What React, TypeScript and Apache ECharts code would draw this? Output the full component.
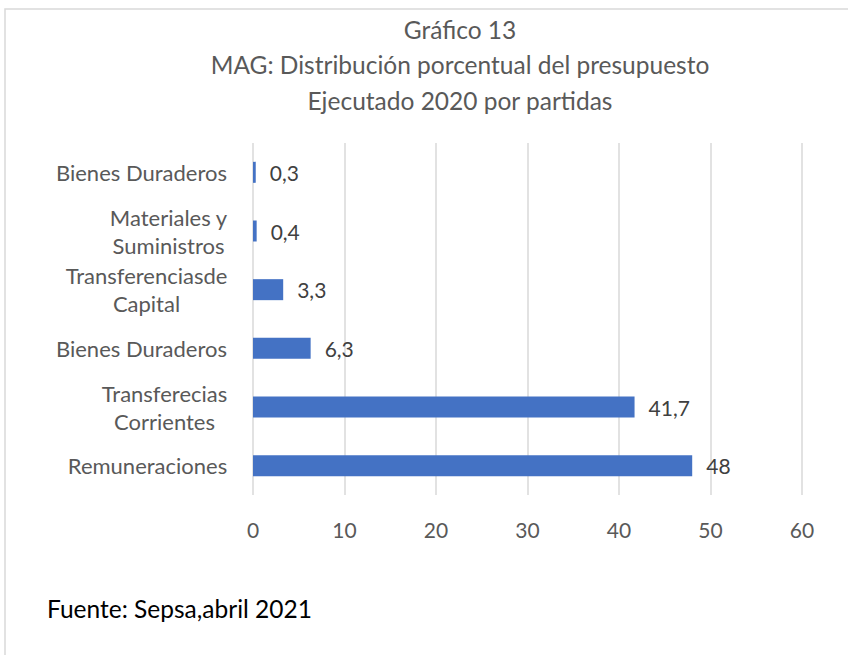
import React, { useEffect, useRef } from "react";
import * as echarts from "echarts";

const titleLines = [
  "Gráfico 13",
  "MAG: Distribución porcentual del presupuesto",
  "Ejecutado 2020 por partidas",
];
const categories = [
  "Bienes Duraderos",
  "Materiales y\nSuministros",
  "Transferenciasde\nCapital",
  "Bienes Duraderos",
  "Transferecias\nCorrientes",
  "Remuneraciones",
];
const values = [0.3, 0.4, 3.3, 6.3, 41.7, 48];
const xTicks = { min: 0, max: 60, interval: 10 };
const footer = "Fuente: Sepsa,abril 2021";

const FONT = "Lato";
const LABEL_SIZE = 22;
const NUM_SIZE = 21;

function measure(text: string, size: number) {
  const c = document.createElement("canvas").getContext("2d");
  if (!c) return text.length * size * 0.5;
  c.font = `${size}px ${FONT}`;
  return c.measureText(text).width;
}

export default function App() {
  const ref = useRef<HTMLDivElement>(null);
  useEffect(() => {
    if (!ref.current) return;
    const chart = echarts.init(ref.current, undefined, { renderer: "svg" });
    const rich: Record<string, any> = {};
    categories.forEach((c, i) => {
      const w = Math.max(...c.split("\n").map((l) => measure(l, LABEL_SIZE)));
      rich["w" + i] = {
        width: Math.ceil(w) + 1,
        align: "center",
        fontFamily: FONT,
        fontSize: LABEL_SIZE,
        color: "#595959",
        lineHeight: 28,
      };
    });
    chart.setOption({
      animation: false,
      backgroundColor: "#ffffff",
      textStyle: { fontFamily: FONT },
      graphic: [
        {
          type: "rect",
          shape: { x: 5, y: 9, width: 900, height: 800 },
          style: { fill: "none", stroke: "#d9d9d9", lineWidth: 1.5 },
          silent: true,
        },
        ...titleLines.map((t, i) => ({
          type: "text",
          x: 460,
          y: 29 + i * 35.5,
          style: {
            text: t,
            fontFamily: FONT,
            fontSize: 24.5,
            fill: "#595959",
            align: "center",
            verticalAlign: "middle",
          },
        })),
        {
          type: "text",
          x: 47,
          y: 608,
          style: {
            text: footer,
            fontFamily: FONT,
            fontSize: 24.5,
            fill: "#000000",
            align: "left",
            verticalAlign: "middle",
          },
        },
      ],
      grid: { left: 253, right: 46, top: 143, bottom: 160 },
      xAxis: {
        type: "value",
        min: xTicks.min,
        max: xTicks.max,
        interval: xTicks.interval,
        axisLine: { show: false },
        axisTick: { show: false },
        splitLine: { lineStyle: { color: "#d9d9d9", width: 1.5 } },
        axisLabel: {
          margin: 24,
          fontFamily: FONT,
          fontSize: NUM_SIZE,
          color: "#595959",
        },
      },
      yAxis: {
        type: "category",
        inverse: true,
        data: categories.map((_, i) => "c" + i),
        axisLine: { show: false },
        axisTick: { show: false },
        axisLabel: {
          margin: 25,
          align: "right",
          formatter: (_v: string, i: number) =>
            categories[i]
              .split("\n")
              .map((l) => `{w${i}|${l}}`)
              .join("\n"),
          rich,
        },
      },
      series: [
        {
          type: "bar",
          data: values,
          barWidth: 21,
          itemStyle: { color: "#4472C4" },
          label: {
            show: true,
            position: "right",
            distance: 14,
            fontFamily: FONT,
            fontSize: NUM_SIZE,
            color: "#404040",
            formatter: (p: any) => String(p.value).replace(".", ","),
          },
        },
      ],
    });
    return () => chart.dispose();
  }, []);
  return (
    <div
      ref={ref}
      style={{ position: "absolute", left: 0, top: 0, width: 848, height: 655 }}
    />
  );
}
